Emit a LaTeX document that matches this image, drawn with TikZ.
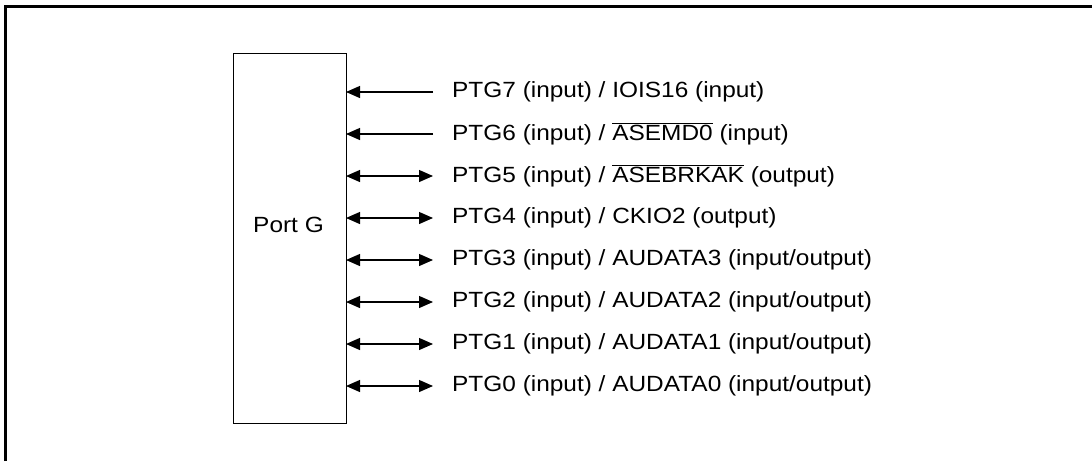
\documentclass[tikz,border=0pt]{standalone}
\usepackage{fontspec}
\setmainfont{Liberation Sans}[FakeStretch=1.11]
\usetikzlibrary{arrows.meta}
\newcommand{\ovl}[1]{$\overline{\mbox{#1}}$}
\begin{document}
\begin{tikzpicture}[x=1pt,y=-1pt,
  frame/.style={line width=2.2pt},
  portbox/.style={draw,line width=1pt,minimum width=113pt,minimum height=370pt,inner sep=0pt},
  sig/.style={line width=1.2pt},
  tipin/.style={-{Triangle[length=14pt,width=12pt]}},
  tipbi/.style={{Triangle[length=14pt,width=12pt]}-{Triangle[length=14pt,width=12pt]}},
  lbl/.style={anchor=west,inner sep=0pt,font=\fontsize{22}{26}\selectfont}
]
\useasboundingbox (0,0) rectangle (1092,461);
\draw[frame] (5.5,461) -- (5.5,6.5) -- (1092,6.5);
\node[portbox] (port) at (289.5,238) {};
\node[font=\fontsize{22}{26}\selectfont] (pg) at (288.5,225) {Port G};
\foreach \i/\txt in {
  7/{PTG7 (input) / IOIS16 (input)},
  6/{PTG6 (input) / \ovl{ASEMD0} (input)},
  5/{PTG5 (input) / \ovl{ASEBRKAK} (output)},
  4/{PTG4 (input) / CKIO2 (output)},
  3/{PTG3 (input) / AUDATA3 (input/output)},
  2/{PTG2 (input) / AUDATA2 (input/output)},
  1/{PTG1 (input) / AUDATA1 (input/output)},
  0/{PTG0 (input) / AUDATA0 (input/output)}}{
  \pgfmathsetmacro{\yy}{92+42*(7-\i)}
  \coordinate (e\i) at (433,\yy);
  \coordinate (b\i) at (346,\yy);
  \node[lbl] (t\i) at (452,\yy) {\txt};
}
\foreach \i in {7,6} \draw[sig,tipin] (e\i) -- (b\i);
\foreach \i in {5,4,3,2,1,0} \draw[sig,tipbi] (b\i) -- (e\i);
\end{tikzpicture}
\end{document}
